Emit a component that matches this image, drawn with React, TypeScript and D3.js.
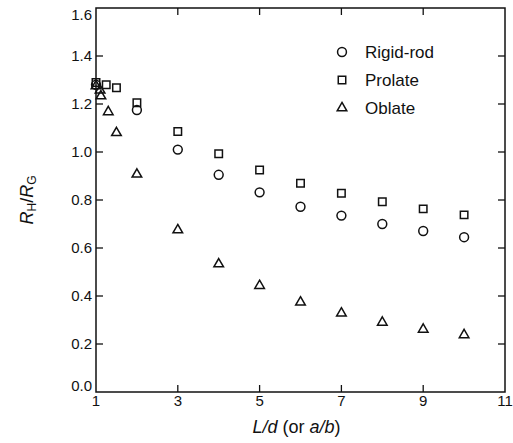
import React from 'react';
import * as d3 from 'd3';

// Rigid-rod (circles)
const rodX = [1, 2, 3, 4, 5, 6, 7, 8, 9, 10];
const rodY = [1.28, 1.175, 1.01, 0.905, 0.832, 0.772, 0.735, 0.7, 0.671, 0.645];

// Prolate (squares)
const prolateX = [1, 1.25, 1.5, 2, 3, 4, 5, 6, 7, 8, 9, 10];
const prolateY = [1.29, 1.28, 1.268, 1.205, 1.085, 0.993, 0.925, 0.87, 0.828, 0.793, 0.763, 0.738];

// Oblate (triangles)
const oblateX = [1, 1.1, 1.12, 1.3, 1.5, 2, 3, 4, 5, 6, 7, 8, 9, 10];
const oblateY = [1.275, 1.257, 1.233, 1.167, 1.08, 0.907, 0.675, 0.533, 0.443, 0.374, 0.328, 0.29, 0.261, 0.238];

const xTicks = [1, 3, 5, 7, 9, 11];
const yTicks = [0, 0.2, 0.4, 0.6, 0.8, 1.0, 1.2, 1.4, 1.6];

const legendNames = ['Rigid-rod', 'Prolate', 'Oblate'];

const font = '"Liberation Sans", Arial, Helvetica, sans-serif';

export default function App() {
  const width = 513;
  const height = 443;
  const left = 96, right = 505, top = 8, bottom = 392;
  const tick = 7;

  const x = d3.scaleLinear().domain([1, 11]).range([left, right]);
  const y = d3.scaleLinear().domain([0, 1.6]).range([bottom, top]);

  const circle = d3.symbol().type(d3.symbolCircle).size(62)();
  const square = d3.symbol().type(d3.symbolSquare).size(56)();
  const triangle = d3.symbol().type(d3.symbolTriangle).size(40)();
  const shapes = [circle, square, triangle];

  const series = [
    { xs: rodX, ys: rodY, path: circle },
    { xs: prolateX, ys: prolateY, path: square },
    { xs: oblateX, ys: oblateY, path: triangle },
  ];

  const stroke = '#111';

  return (
    <div style={{ position: 'fixed', left: 0, top: 0 }}>
      <svg width={width} height={height} style={{ display: 'block', background: '#fff' }}>
        {/* frame */}
        <rect x={left} y={top} width={right - left} height={bottom - top}
          fill="none" stroke={stroke} strokeWidth={1.5} />

        {/* x ticks, bottom and top, inward */}
        {xTicks.map(t => (
          <g key={'x' + t}>
            {t !== 1 && t !== 11 && (
              <>
                <line x1={x(t)} x2={x(t)} y1={bottom} y2={bottom - tick} stroke={stroke} strokeWidth={1.3} />
                <line x1={x(t)} x2={x(t)} y1={top} y2={top + tick} stroke={stroke} strokeWidth={1.3} />
              </>
            )}
            <text x={x(t)} y={bottom + 3} dy="0.71em" textAnchor="middle"
              fontFamily={font} fontSize={15} fill={stroke}>{t}</text>
          </g>
        ))}

        {/* y ticks, left and right, inward */}
        {yTicks.map((t, i) => (
          <g key={'y' + t}>
            {t !== 0 && t !== 1.6 && (
              <>
                <line x1={left} x2={left + tick} y1={y(t)} y2={y(t)} stroke={stroke} strokeWidth={1.3} />
                <line x1={right} x2={right - tick} y1={y(t)} y2={y(t)} stroke={stroke} strokeWidth={1.3} />
              </>
            )}
            <text x={left - 4} y={y(t) + (i === 0 ? -6 : i === yTicks.length - 1 ? 7 : 0)}
              dy="0.36em" textAnchor="end" fontFamily={font} fontSize={15} fill={stroke}>
              {d3.format('.1f')(t)}
            </text>
          </g>
        ))}

        {/* data */}
        {series.map((s, si) => (
          <g key={'s' + si}>
            {s.xs.map((v, i) => (
              <path key={i} d={s.path} transform={`translate(${x(v)},${y(s.ys[i])})`}
                fill="none" stroke={stroke} strokeWidth={1.5} />
            ))}
          </g>
        ))}

        {/* legend */}
        {legendNames.map((name, i) => (
          <g key={name} transform={`translate(342,${52 + i * 28})`}>
            <path d={shapes[i]} fill="none" stroke={stroke} strokeWidth={1.5} />
            <text x={23} dy="0.36em" fontFamily={font} fontSize={17} fill={stroke}>{name}</text>
          </g>
        ))}

        {/* x title */}
        <text x={(left + right) / 2 - 4} y={433} textAnchor="middle" fontFamily={font} fontSize={18} fill={stroke}>
          <tspan fontStyle="italic">L/d</tspan>
          <tspan> (or </tspan>
          <tspan fontStyle="italic">a/b</tspan>
          <tspan>)</tspan>
        </text>

        {/* y title */}
        <text transform={`translate(33,${(top + bottom) / 2}) rotate(-90)`} textAnchor="middle"
          fontFamily={font} fontSize={18} fill={stroke}>
          <tspan fontStyle="italic">R</tspan>
          <tspan fontSize={12} dy={3}>H</tspan>
          <tspan dy={-3}>/</tspan>
          <tspan fontStyle="italic">R</tspan>
          <tspan fontSize={12} dy={3}>G</tspan>
        </text>
      </svg>
    </div>
  );
}
